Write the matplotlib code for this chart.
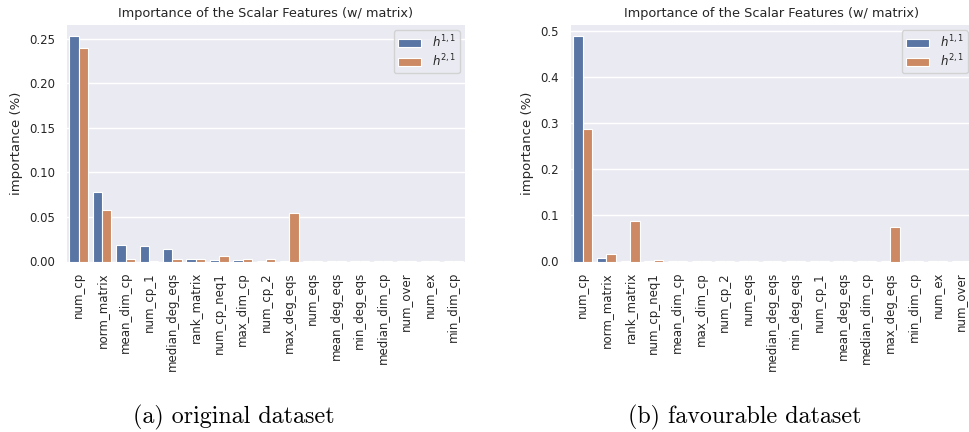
import matplotlib
matplotlib.use("Agg")
import matplotlib.pyplot as plt
import numpy as np

# ---- data ----
cats_a = ["num_cp", "norm_matrix", "mean_dim_cp", "num_cp_1", "median_deg_eqs",
          "rank_matrix", "num_cp_neq1", "max_dim_cp", "num_cp_2", "max_deg_eqs",
          "num_eqs", "mean_deg_eqs", "min_deg_eqs", "median_dim_cp", "num_over",
          "num_ex", "min_dim_cp"]
h11_a = [0.2526, 0.0785, 0.0182, 0.0175, 0.0137, 0.0025, 0.0012, 0.0020, 0.0006, 0.0005,
         0.0004, 0.0003, 0.0003, 0.0003, 0.0003, 0.0004, 0.0002]
h21_a = [0.2396, 0.0577, 0.0030, 0.0006, 0.0030, 0.0025, 0.0060, 0.0025, 0.0025, 0.0547,
         0.0004, 0.0003, 0.0003, 0.0003, 0.0003, 0.0004, 0.0002]

cats_b = ["num_cp", "norm_matrix", "rank_matrix", "num_cp_neq1", "mean_dim_cp",
          "max_dim_cp", "num_cp_2", "num_eqs", "median_deg_eqs", "min_deg_eqs",
          "num_cp_1", "mean_deg_eqs", "median_dim_cp", "max_deg_eqs", "min_dim_cp",
          "num_ex", "num_over"]
h11_b = [0.488, 0.007, 0.0005, 0.0005, 0.0005, 0.0004, 0.0005, 0.0005, 0.0003, 0.0003,
         0.0003, 0.0002, 0.0002, 0.0003, 0.0002, 0.0002, 0.0002]
h21_b = [0.287, 0.017, 0.088, 0.004, 0.002, 0.0005, 0.0008, 0.0015, 0.0003, 0.0003,
         0.0015, 0.0003, 0.0003, 0.074, 0.0003, 0.0002, 0.0002]

series_labels = [r"$h^{1,1}$", r"$h^{2,1}$"]
title = "Importance of the Scalar Features (w/ matrix)"
ylabel = "importance (%)"
captions = ["(a) original dataset", "(b) favourable dataset"]

# ---- style ----
plt.rcParams.update({
    "font.family": ["DejaVu Sans"],
    "axes.facecolor": "#EAEAF2",
    "figure.facecolor": "white",
    "axes.edgecolor": "white",
    "grid.color": "white",
    "grid.linewidth": 1.0,
    "xtick.major.size": 0,
    "ytick.major.size": 0,
    "xtick.color": "#262626",
    "ytick.color": "#262626",
    "axes.labelcolor": "#262626",
    "text.color": "#262626",
})
blue = "#5875A4"
orange = "#CC8963"

fig = plt.figure(figsize=(9.69, 4.32), dpi=100)
ax_a = fig.add_axes([67/969, 170.5/432, 398/969, 236.5/432])
ax_b = fig.add_axes([571/969, 170.5/432, 402/969, 236.5/432])

TICK = 8.5
LAB = 9.5


def draw(ax, cats, v1, v2, yticks, fmt):
    x = np.arange(len(cats))
    w = 0.4
    ax.bar(x - w/2, v1, w, color=blue, edgecolor="white", linewidth=0.8, label=series_labels[0])
    ax.bar(x + w/2, v2, w, color=orange, edgecolor="white", linewidth=0.8, label=series_labels[1])
    ax.set_xlim(-0.5, len(cats) - 0.5)
    top = max(max(v1), max(v2)) * 1.05
    ax.set_ylim(0, top)
    ax.set_yticks(yticks)
    ax.set_yticklabels([fmt.format(t) for t in yticks], fontsize=TICK)
    ax.set_xticks(x)
    ax.set_xticklabels(cats, rotation=90, fontsize=TICK)
    ax.tick_params(axis="x", pad=7.5)
    ax.tick_params(axis="y", pad=8.5)
    ax.grid(axis="y")
    ax.set_axisbelow(True)
    for s in ax.spines.values():
        s.set_visible(False)
    ax.set_title(title, fontsize=9.3, pad=6)
    ax.set_ylabel(ylabel, fontsize=LAB)
    ax.legend(loc="upper right", fontsize=TICK, frameon=True, facecolor="#EAEAF2",
              edgecolor="#CCCCCC", framealpha=0.8, borderaxespad=0.45,
              handlelength=2.0, handletextpad=0.9, labelspacing=0.2,
              borderpad=0.3)
    return ax


draw(ax_a, cats_a, h11_a, h21_a, [0.0, 0.05, 0.10, 0.15, 0.20, 0.25], "{:.2f}")
draw(ax_b, cats_b, h11_b, h21_b, [0.0, 0.1, 0.2, 0.3, 0.4, 0.5], "{:.1f}")
ax_a.yaxis.set_label_coords(-44/398, 0.5)
ax_b.yaxis.set_label_coords(-37/402, 0.5)

fig.text(234/969, 1 - 417/432, captions[0], ha="center", va="center",
         family=["cmr10", "DejaVu Serif"], fontsize=17.3, color="black")
fig.text(745/969, 1 - 417/432, captions[1], ha="center", va="center",
         family=["cmr10", "DejaVu Serif"], fontsize=17.3, color="black")

fig.savefig("out.png", dpi=100)
